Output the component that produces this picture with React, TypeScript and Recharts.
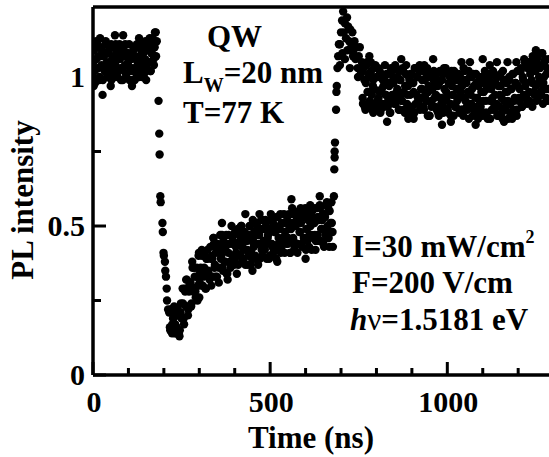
import React from "react";
import { ScatterChart, Scatter, XAxis, YAxis, ReferenceLine } from "recharts";

type Pt = [number, number];

// PL intensity vs time (ns)
const beforePulse: Pt[] = [
  [0, 1.0], [1, 1.05], [2, 0.97], [3, 1.09], [5, 1.02], [6, 0.98], [9, 1.12], [12, 1.03], [15, 1.07], [18, 0.99],
  [21, 1.1], [24, 1.04], [27, 0.94], [30, 1.08], [33, 1.02], [36, 1.12], [39, 1.05], [42, 1.0], [45, 1.09], [48, 1.03],
  [51, 1.11], [54, 1.06], [57, 1.01], [60, 1.1], [63, 1.04], [66, 1.08], [69, 1.0], [72, 1.06], [75, 1.11], [78, 1.03],
  [81, 1.07], [84, 0.99], [87, 1.09], [90, 1.04], [93, 1.01], [96, 1.08], [99, 1.05], [102, 1.11], [105, 1.02], [108, 1.06],
  [111, 0.99], [114, 1.09], [117, 1.03], [120, 1.07], [123, 1.01], [126, 1.05], [129, 1.1], [132, 1.02], [135, 1.07], [138, 1.04],
  [141, 1.11], [144, 1.01], [147, 1.06], [150, 1.03], [153, 1.09], [156, 1.05], [159, 1.12], [162, 1.02], [165, 1.08], [168, 1.13],
  [171, 1.06], [174, 1.1], [177, 1.15], [180, 1.12],
];

const beforePulseB: Pt[] = [
  [1, 1.02], [4, 1.1], [7, 0.99], [10, 1.06], [13, 1.11], [16, 1.03], [19, 1.0], [22, 1.07], [25, 1.09], [28, 0.99],
  [31, 1.07], [34, 1.04], [37, 1.11], [40, 1.01], [43, 1.08], [46, 1.03], [49, 1.1], [52, 0.99], [55, 1.05], [58, 1.07],
  [61, 1.0], [64, 1.11], [67, 1.03], [70, 1.09], [73, 1.02], [76, 1.06], [79, 0.99], [82, 1.1], [85, 1.03], [88, 1.07],
  [91, 1.11], [94, 1.01], [97, 1.04], [100, 1.08], [103, 0.99], [106, 1.07], [109, 1.03], [112, 1.02], [115, 1.1], [118, 0.99],
  [121, 1.06], [124, 1.11], [127, 1.03], [130, 1.0], [133, 1.07], [136, 1.09], [139, 1.0], [142, 1.08], [145, 1.05], [148, 1.12],
  [151, 1.03], [154, 1.1], [157, 1.05], [160, 1.13], [163, 1.02], [166, 1.08], [169, 1.11], [172, 1.04], [175, 1.15], [178, 1.07],
];

const fallEdge: Pt[] = [
  [185, 0.92], [187, 0.81], [188, 0.74], [190, 0.6], [191, 0.58], [196, 0.51], [197, 0.48], [199, 0.41],
  [200, 0.4], [203, 0.38], [204, 0.35], [206, 0.33], [208, 0.29], [209, 0.25], [212, 0.22],
];

const recovery: Pt[] = [
  [215, 0.21], [218, 0.15], [221, 0.22], [224, 0.17], [227, 0.19], [230, 0.14], [233, 0.2], [236, 0.16], [239, 0.22], [242, 0.14],
  [245, 0.15], [248, 0.24], [251, 0.19], [254, 0.24], [257, 0.17], [260, 0.28], [263, 0.32], [266, 0.23], [269, 0.22], [272, 0.3],
  [275, 0.31], [278, 0.24], [281, 0.36], [284, 0.29], [287, 0.33], [290, 0.26], [293, 0.36], [296, 0.3], [299, 0.41], [302, 0.34],
  [305, 0.3], [308, 0.4], [311, 0.33], [314, 0.36], [317, 0.29], [320, 0.39], [323, 0.42], [326, 0.34], [329, 0.32], [332, 0.39],
  [335, 0.4], [338, 0.33], [340, 0.46], [341, 0.44], [344, 0.37], [347, 0.41], [350, 0.33], [353, 0.43], [356, 0.36], [359, 0.47],
  [362, 0.4], [364, 0.51], [365, 0.36], [368, 0.45], [371, 0.38], [374, 0.42], [377, 0.34], [380, 0.44], [383, 0.47], [386, 0.38],
  [389, 0.37], [392, 0.44], [395, 0.45], [398, 0.37], [401, 0.48], [404, 0.41], [407, 0.44], [410, 0.37], [413, 0.47], [416, 0.4],
  [419, 0.5], [422, 0.43], [425, 0.39], [428, 0.48], [431, 0.42], [434, 0.45], [437, 0.37], [440, 0.47], [443, 0.5], [446, 0.41],
  [449, 0.39], [452, 0.46], [455, 0.48], [458, 0.4], [461, 0.51], [464, 0.44], [467, 0.47], [470, 0.54], [471, 0.39], [473, 0.49],
  [476, 0.42], [479, 0.52], [482, 0.45], [485, 0.42], [488, 0.51], [491, 0.44], [494, 0.47], [497, 0.39], [500, 0.49], [503, 0.52],
  [506, 0.43], [509, 0.41], [512, 0.48], [515, 0.5], [518, 0.42], [521, 0.53], [524, 0.46], [527, 0.49], [530, 0.41], [533, 0.51],
  [536, 0.44], [539, 0.54], [542, 0.48], [545, 0.44], [548, 0.53], [551, 0.46], [554, 0.49], [557, 0.41], [560, 0.51], [563, 0.54],
  [566, 0.45], [569, 0.43], [572, 0.5], [575, 0.52], [578, 0.44], [581, 0.55], [584, 0.48], [587, 0.51], [590, 0.43], [593, 0.53],
  [596, 0.46], [599, 0.56], [602, 0.49], [605, 0.45], [608, 0.54], [611, 0.47], [614, 0.5], [617, 0.42], [620, 0.53], [623, 0.56],
  [626, 0.47], [629, 0.45], [632, 0.52], [635, 0.53], [638, 0.45], [641, 0.56], [644, 0.49], [647, 0.52], [650, 0.44], [653, 0.54],
  [656, 0.47], [659, 0.57], [660, 0.58], [662, 0.5], [665, 0.46], [668, 0.55], [671, 0.48], [674, 0.51], [677, 0.43],
];

const recoveryB: Pt[] = [
  [217, 0.16], [220, 0.22], [223, 0.14], [226, 0.19], [229, 0.23], [232, 0.17], [235, 0.14], [238, 0.2], [241, 0.21], [244, 0.13],
  [247, 0.21], [250, 0.19], [253, 0.29], [256, 0.19], [259, 0.29], [262, 0.23], [265, 0.32], [268, 0.2], [271, 0.28], [274, 0.31],
  [277, 0.23], [280, 0.38], [283, 0.28], [286, 0.36], [289, 0.28], [292, 0.33], [295, 0.25], [298, 0.4], [301, 0.31], [304, 0.36],
  [307, 0.42], [310, 0.3], [313, 0.34], [316, 0.4], [319, 0.29], [322, 0.39], [325, 0.35], [328, 0.33], [331, 0.43], [334, 0.3],
  [337, 0.39], [340, 0.46], [343, 0.36], [346, 0.33], [349, 0.42], [352, 0.44], [355, 0.31], [358, 0.42], [361, 0.39], [364, 0.47],
  [367, 0.35], [370, 0.44], [373, 0.38], [376, 0.47], [379, 0.34], [382, 0.41], [385, 0.44], [388, 0.36], [391, 0.5], [394, 0.4],
  [397, 0.47], [400, 0.38], [403, 0.43], [406, 0.34], [409, 0.49], [412, 0.4], [415, 0.45], [418, 0.5], [421, 0.38], [424, 0.42],
  [427, 0.47], [430, 0.37], [433, 0.47], [436, 0.42], [439, 0.4], [442, 0.5], [445, 0.37], [448, 0.45], [451, 0.52], [454, 0.43],
  [457, 0.39], [460, 0.48], [463, 0.5], [466, 0.37], [469, 0.47], [472, 0.44], [475, 0.52], [478, 0.4], [481, 0.49], [484, 0.43],
  [487, 0.52], [490, 0.39], [493, 0.46], [496, 0.49], [499, 0.4], [502, 0.54], [505, 0.44], [508, 0.51], [511, 0.42], [514, 0.48],
  [517, 0.39], [520, 0.53], [523, 0.44], [526, 0.49], [529, 0.54], [532, 0.42], [535, 0.46], [538, 0.51], [541, 0.41], [544, 0.51],
  [547, 0.46], [550, 0.44], [553, 0.54], [556, 0.41], [559, 0.49], [562, 0.56], [565, 0.46], [568, 0.42], [571, 0.51], [574, 0.54],
  [577, 0.41], [580, 0.51], [583, 0.48], [586, 0.56], [589, 0.44], [592, 0.53], [595, 0.46], [598, 0.55], [601, 0.42], [604, 0.49],
  [607, 0.52], [610, 0.43], [613, 0.57], [616, 0.47], [619, 0.55], [622, 0.46], [625, 0.51], [628, 0.42], [631, 0.56], [634, 0.47],
  [637, 0.52], [640, 0.57], [643, 0.45], [646, 0.49], [649, 0.54], [652, 0.43], [655, 0.53], [658, 0.48], [661, 0.46], [664, 0.56],
  [667, 0.43], [670, 0.51], [673, 0.58], [676, 0.48],
];

const riseEdge: Pt[] = [
  [680, 0.6], [681, 0.69], [682, 0.73], [682, 0.75], [683, 0.78], [686, 0.89], [687, 0.95], [688, 0.97],
  [690, 1.03], [692, 1.07], [694, 1.11],
];

const overshoot: Pt[] = [
  [697, 1.11], [697, 1.04], [700, 1.15], [703, 1.19], [704, 1.08], [706, 1.22], [708, 1.15], [711, 1.18], [711, 1.06],
  [714, 1.13], [717, 1.2], [718, 1.09], [720, 1.17], [723, 1.12], [725, 1.03], [726, 1.16], [729, 1.1], [732, 1.15],
  [734, 1.07], [735, 1.08], [738, 1.12], [741, 1.06], [744, 1.1], [747, 1.03], [748, 1.0], [750, 1.07], [753, 1.1],
  [756, 1.01], [759, 1.05],
];

const plateau: Pt[] = [
  [760, 1.02], [762, 0.91], [763, 0.91], [766, 0.99], [769, 0.89], [772, 1.04], [775, 0.95], [778, 1.01], [781, 0.92], [784, 1.05],
  [787, 0.94], [790, 0.97], [791, 0.88], [793, 1.03], [796, 0.9], [799, 1.0], [800, 0.89], [802, 0.92], [805, 1.03], [808, 0.95],
  [811, 0.88], [814, 1.01], [817, 0.91], [820, 0.97], [823, 1.0], [826, 0.94], [829, 1.01], [832, 0.9], [835, 0.98], [838, 0.88],
  [841, 1.03], [844, 0.94], [847, 1.0], [850, 0.91], [853, 1.04], [856, 0.93], [859, 0.96], [862, 1.02], [865, 0.89], [868, 0.99],
  [871, 0.92], [874, 1.03], [877, 0.95], [880, 0.88], [883, 1.01], [886, 0.91], [889, 0.97], [890, 0.86], [892, 1.0], [895, 0.94],
  [898, 1.01], [901, 0.9], [904, 0.98], [907, 0.88], [910, 1.03], [913, 0.94], [916, 1.0], [919, 0.91], [922, 1.04], [925, 0.93],
  [928, 0.96], [931, 1.02], [934, 0.89], [937, 0.99], [940, 0.92], [943, 1.03], [945, 0.87], [946, 0.95], [949, 0.87], [952, 1.0],
  [955, 0.9], [958, 0.96], [961, 0.99], [964, 0.93], [967, 1.0], [970, 0.89], [973, 0.97], [976, 0.87], [979, 1.02], [982, 0.93],
  [985, 0.99], [988, 0.9], [991, 1.03], [994, 0.92], [997, 0.95], [1000, 1.01], [1003, 0.88], [1006, 0.98], [1009, 0.91], [1012, 1.02],
  [1015, 0.94], [1018, 0.87], [1021, 1.0], [1024, 0.9], [1027, 0.96], [1030, 0.99], [1033, 0.93], [1036, 1.0], [1039, 0.89], [1042, 0.97],
  [1045, 0.87], [1048, 1.02], [1051, 0.92], [1054, 0.98], [1057, 0.89], [1060, 1.02], [1063, 0.91], [1064, 1.05], [1066, 0.94], [1069, 1.0],
  [1072, 0.87], [1075, 0.97], [1078, 0.9], [1081, 1.01], [1084, 0.93], [1087, 0.86], [1090, 0.99], [1093, 0.89], [1096, 0.95], [1099, 0.98],
  [1100, 1.06], [1102, 0.92], [1105, 0.99], [1108, 0.88], [1111, 0.96], [1114, 0.86], [1117, 1.01], [1120, 0.92], [1123, 0.98], [1126, 0.89],
  [1129, 1.02], [1132, 0.91], [1135, 0.94], [1138, 1.0], [1140, 1.05], [1141, 0.87], [1144, 0.97], [1147, 0.9], [1150, 1.01], [1153, 0.93],
  [1156, 0.86], [1159, 0.99], [1162, 0.89], [1165, 0.95], [1168, 0.98], [1170, 1.05], [1171, 0.92], [1174, 0.99], [1177, 0.88], [1180, 0.96],
  [1183, 0.86], [1186, 1.01], [1189, 0.92], [1192, 0.98], [1195, 1.05], [1196, 0.89], [1198, 1.02], [1201, 0.92], [1204, 0.96], [1207, 1.02],
  [1210, 0.9], [1213, 1.0], [1216, 0.94], [1219, 1.05], [1222, 0.98], [1225, 0.91], [1228, 1.05], [1231, 0.95], [1234, 1.01], [1237, 1.04],
  [1240, 0.98], [1243, 1.05], [1246, 0.94], [1249, 1.02], [1252, 0.92], [1255, 1.07], [1258, 0.98], [1261, 1.04], [1264, 0.95], [1267, 1.08],
  [1270, 0.97], [1273, 1.0], [1276, 1.06], [1279, 0.93], [1282, 1.03], [1285, 0.96],
];

const plateauB: Pt[] = [
  [761, 0.93], [764, 1.03], [767, 0.9], [770, 0.98], [773, 1.05], [776, 0.95], [779, 0.91], [782, 1.0], [785, 1.02], [788, 0.89],
  [791, 0.99], [794, 0.96], [797, 1.04], [800, 0.91], [803, 1.0], [806, 0.93], [809, 1.02], [812, 0.89], [815, 0.96], [818, 0.99],
  [821, 0.9], [824, 1.04], [827, 0.94], [830, 1.01], [833, 0.92], [836, 0.97], [839, 0.88], [842, 1.02], [845, 0.93], [848, 0.98],
  [851, 1.03], [854, 0.91], [857, 0.95], [860, 1.0], [863, 0.89], [866, 0.99], [869, 0.94], [872, 0.92], [875, 1.02], [878, 0.89],
  [881, 0.97], [884, 1.04], [887, 0.94], [890, 0.9], [893, 0.99], [896, 1.01], [899, 0.88], [902, 0.98], [905, 0.95], [908, 1.03],
  [911, 0.91], [914, 1.0], [917, 0.93], [920, 1.02], [923, 0.89], [926, 0.96], [929, 0.99], [932, 0.9], [935, 1.04], [938, 0.94],
  [941, 1.01], [944, 0.92], [947, 0.97], [950, 0.87], [953, 1.01], [956, 0.92], [959, 0.97], [962, 1.02], [965, 0.9], [968, 0.94],
  [971, 0.99], [974, 0.88], [977, 0.98], [980, 0.93], [983, 0.91], [986, 1.01], [989, 0.88], [992, 0.96], [995, 1.03], [998, 0.93],
  [1001, 0.89], [1004, 0.98], [1007, 1.0], [1010, 0.87], [1013, 0.97], [1016, 0.94], [1019, 1.02], [1022, 0.9], [1025, 0.99], [1028, 0.92],
  [1031, 1.01], [1034, 0.88], [1037, 0.95], [1040, 0.98], [1043, 0.89], [1046, 1.03], [1049, 0.93], [1052, 0.99], [1055, 0.9], [1058, 0.95],
  [1061, 0.86], [1064, 1.0], [1067, 0.91], [1070, 0.96], [1073, 1.01], [1076, 0.89], [1079, 0.93], [1082, 0.98], [1085, 0.87], [1088, 0.97],
  [1091, 0.92], [1094, 0.9], [1097, 1.0], [1100, 0.87], [1103, 0.95], [1106, 1.02], [1109, 0.92], [1112, 0.88], [1115, 0.97], [1118, 0.99],
  [1121, 0.86], [1124, 0.96], [1127, 0.93], [1130, 1.01], [1133, 0.89], [1136, 0.98], [1139, 0.91], [1142, 1.0], [1145, 0.87], [1148, 0.94],
  [1151, 0.97], [1154, 0.88], [1157, 1.02], [1160, 0.92], [1163, 0.99], [1166, 0.9], [1169, 0.95], [1172, 0.86], [1175, 1.0], [1178, 0.91],
  [1181, 0.96], [1184, 1.01], [1187, 0.89], [1190, 0.93], [1193, 0.98], [1196, 0.87], [1199, 0.97], [1202, 0.93], [1205, 0.92], [1208, 1.03],
  [1211, 0.9], [1214, 0.99], [1217, 1.06], [1220, 0.97], [1223, 0.93], [1226, 1.03], [1229, 1.05], [1232, 0.92], [1235, 1.02], [1238, 0.99],
  [1241, 1.07], [1244, 0.95], [1247, 1.04], [1250, 0.97], [1253, 1.06], [1256, 0.93], [1259, 1.0], [1262, 1.03], [1265, 0.94], [1268, 1.08],
  [1271, 0.98], [1274, 1.05], [1277, 0.96], [1280, 1.01], [1283, 0.92], [1286, 1.06],
];

// scattered points sticking out of the clouds
const strayPoints: Pt[] = [
  [20, 1.13], [50, 0.97], [62, 1.14], [85, 1.14], [110, 0.97], [130, 1.13], [150, 0.99],
  [300, 0.26], [380, 0.32], [430, 0.54], [450, 0.35], [520, 0.38], [560, 0.59], [600, 0.39], [640, 0.6],
  [780, 1.07], [830, 0.85], [870, 1.06], [905, 0.86], [960, 1.06], [985, 0.84], [1010, 0.85], [1040, 1.05],
  [1080, 0.84], [1120, 1.04], [1160, 0.85], [1240, 0.9], [1250, 1.09], [1270, 0.91],
];

const X_MAX = 1287;
const Y_MAX = 1.235;
const X_TICKS = [0, 100, 200, 300, 400, 500, 600, 700, 800, 900, 1000, 1100, 1200];
const X_LABELS = [0, 500, 1000];
const Y_TICKS = [0, 0.25, 0.5, 0.75, 1];
const Y_LABELS = [0, 0.5, 1];

const points = [
  ...beforePulse,
  ...beforePulseB,
  ...fallEdge,
  ...recovery,
  ...recoveryB,
  ...riseEdge,
  ...overshoot,
  ...plateau,
  ...plateauB,
  ...strayPoints,
].map(([t, v]) => ({ t, v }));

const FONT = '"Liberation Serif", "Times New Roman", Times, serif';

const XTick = (props: any) => {
  const { x, y, payload } = props;
  const major = X_LABELS.includes(payload.value);
  return (
    <g>
      <line x1={x} x2={x} y1={y} y2={y - (major ? 13 : 7)} stroke="#000" strokeWidth={3} />
      {major && (
        <text x={x + 1} y={y + 37} textAnchor="middle" fontFamily={FONT} fontWeight="bold" fontSize={30} fill="#000">
          {payload.value}
        </text>
      )}
    </g>
  );
};

const YTick = (props: any) => {
  const { x, y, payload } = props;
  const major = Y_LABELS.includes(payload.value);
  return (
    <g>
      <line x1={x} x2={x + (major ? 13 : 8)} y1={y} y2={y} stroke="#000" strokeWidth={3} />
      {major && (
        <text x={x - 8} y={y + 10} textAnchor="end" fontFamily={FONT} fontWeight="bold" fontSize={30} fill="#000">
          {payload.value}
        </text>
      )}
    </g>
  );
};

const Dot = (props: any) => <circle cx={props.cx} cy={props.cy} r={4.2} fill="#000" />;

const textStyle = { fontFamily: FONT, fontWeight: "bold" as const, fontSize: 31, fill: "#000" };

export default function App() {
  return (
    <div style={{ position: "absolute", left: 0, top: 0, width: 549, height: 457, background: "#fff" }}>
      <ScatterChart width={549} height={457} margin={{ top: 7, right: 0, bottom: 0, left: 0 }}>
        <XAxis
          dataKey="t"
          type="number"
          domain={[0, X_MAX]}
          allowDataOverflow
          ticks={X_TICKS}
          interval={0}
          tickSize={0}
          tickMargin={0}
          tickLine={false}
          tick={<XTick />}
          height={82}
          axisLine={{ stroke: "#000", strokeWidth: 3.5 }}
        />
        <YAxis
          dataKey="v"
          type="number"
          domain={[0, Y_MAX]}
          allowDataOverflow
          ticks={Y_TICKS}
          interval={0}
          tickSize={0}
          tickMargin={0}
          tickLine={false}
          tick={<YTick />}
          width={93}
          axisLine={{ stroke: "#000", strokeWidth: 3.5 }}
        />
        <ReferenceLine y={Y_MAX} stroke="#000" strokeWidth={3.5} />
        <Scatter data={points} fill="#000" shape={<Dot />} isAnimationActive={false} />
        <g>
          <text x={311} y={448} textAnchor="middle" {...textStyle}>Time (ns)</text>
          <text x={33} y={200} textAnchor="middle" transform="rotate(-90, 33, 200)" {...textStyle}>PL intensity</text>
          <text x={207} y={47} {...textStyle}>QW</text>
          <text x={183} y={83} {...textStyle}>
            L<tspan fontSize={20} dy={9}>W</tspan><tspan dy={-9}>=20 nm</tspan>
          </text>
          <text x={183} y={123} {...textStyle}>T=77 K</text>
          <text x={352} y={257} {...textStyle}>
            I=30 mW/cm<tspan fontSize={18} dy={-14}>2</tspan>
          </text>
          <text x={352} y={293} {...textStyle}>F=200 V/cm</text>
          <text x={350} y={330} {...textStyle}>
            <tspan fontStyle="italic">h</tspan><tspan fontWeight="normal">ν</tspan>=1.5181 eV
          </text>
        </g>
      </ScatterChart>
    </div>
  );
}
